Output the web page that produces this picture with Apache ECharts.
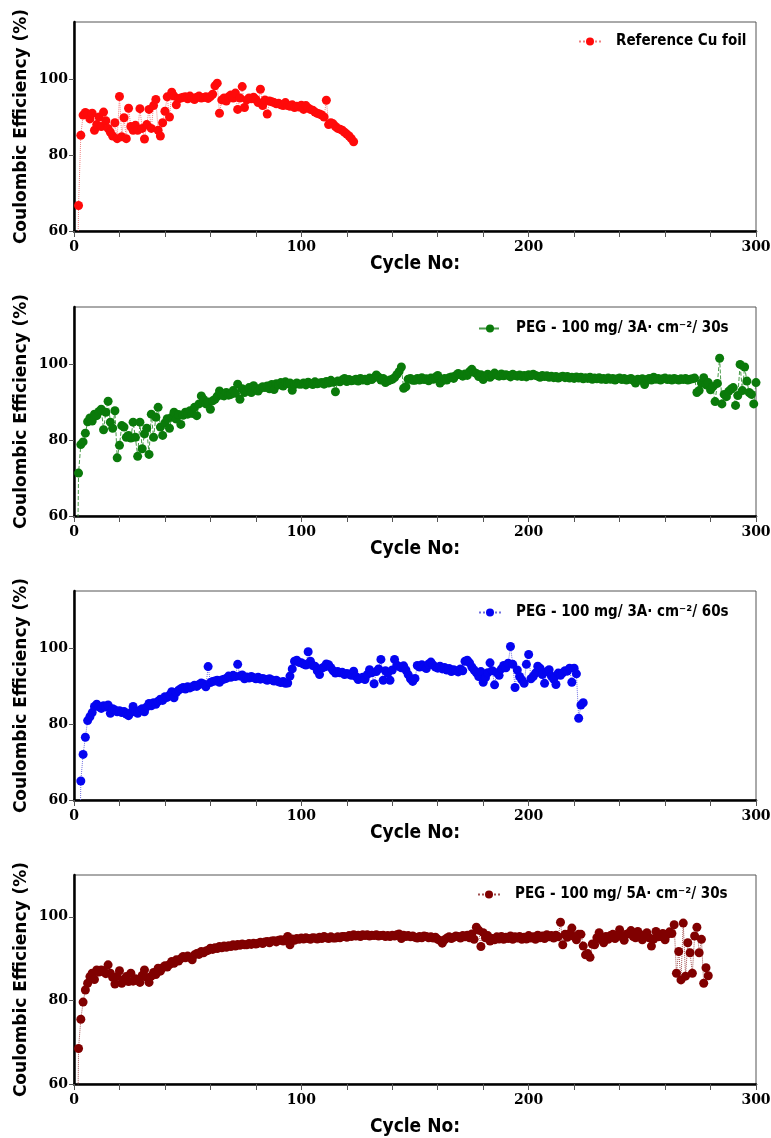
<!DOCTYPE html>
<html>
<head>
<meta charset="utf-8">
<script src="https://cdn.jsdelivr.net/npm/echarts@6/dist/echarts.min.js"></script>
<style>
html,body{margin:0;padding:0;background:#fff;}
#chart{width:771px;height:1138px;}
</style>
</head>
<body>
<div id="chart"></div>
<script>
// ---------- DATA ----------
const seriesNames = [
  'Reference Cu foil',
  'PEG - 100 mg/ 3A\u00b7 cm\u207b\u00b2/ 30s',
  'PEG - 100 mg/ 3A\u00b7 cm\u207b\u00b2/ 60s',
  'PEG - 100 mg/ 5A\u00b7 cm\u207b\u00b2/ 30s'
];
const xTickLabels = [0, 100, 200, 300];
const yTickLabels = [60, 80, 100];

// Reference Cu foil, cycles 1..123 (cycle 1 is off-scale, below 60)
const refStartCycle = 1;
const refValues = [
  20.0, 66.7, 85.2, 90.5, 91.2, 90.8, 89.5, 91.0, 86.5, 88.0,
  90.0, 87.5, 91.3, 89.0, 87.0, 86.0, 85.0, 88.5, 84.3, 95.4,
  84.8, 89.8, 84.3, 92.3, 87.5, 86.5, 87.8, 86.5, 92.2, 87.0,
  84.2, 88.0, 92.0, 87.0, 93.0, 94.6, 86.5, 85.0, 88.5, 91.5,
  95.3, 90.0, 96.5, 95.5, 93.2, 94.8, 95.0, 95.2, 95.3, 94.8,
  95.5, 95.0, 94.6, 95.2, 95.5, 95.0, 95.1, 95.3, 94.9, 95.4,
  96.0, 98.2, 98.9, 91.0, 94.5, 95.0, 94.2, 95.3, 95.8, 95.0,
  96.3, 92.0, 95.0, 98.0, 92.5, 94.5, 95.0, 94.8, 95.2, 94.6,
  93.8, 97.3, 93.0, 94.5, 90.8, 94.2, 94.0, 93.8, 93.5, 93.6,
  93.2, 93.0, 93.8, 93.0, 92.8, 93.2, 92.5, 92.8, 92.6, 93.1,
  92.0, 93.0, 92.4, 92.0, 91.8, 91.3, 91.0, 90.8, 90.5, 90.0,
  94.4, 88.0, 88.5, 88.2, 87.5, 87.0, 86.8, 86.5, 86.0, 85.5,
  85.0, 84.3, 83.5
];

// PEG 3A 30s, cycles 1..300 (cycle 1 off-scale)
const peg30StartCycle = 1;
const peg30Values = [
  20.0, 71.3, 78.8, 79.5, 81.8, 84.8, 85.8, 85.0, 86.8, 86.4,
  87.5, 88.1, 82.7, 87.3, 90.2, 84.7, 83.1, 87.7, 75.3, 78.6,
  83.8, 83.4, 80.7, 81.2, 80.5, 84.7, 80.7, 75.7, 84.7, 77.7,
  81.6, 83.1, 76.2, 86.8, 80.7, 86.0, 88.6, 83.4, 81.2, 84.5,
  85.6, 83.1, 86.0, 87.3, 85.5, 86.7, 84.1, 86.5, 87.3, 86.8,
  87.7, 87.0, 88.6, 86.4, 89.5, 91.6, 90.7, 89.5, 90.0, 88.1,
  90.3, 90.7, 91.5, 92.9, 91.8, 91.6, 92.5, 91.8, 92.0, 93.0,
  92.3, 94.7, 90.7, 93.5, 92.5, 93.0, 93.8, 92.5, 94.3, 93.5,
  92.9, 93.6, 94.0, 93.8, 94.2, 93.5, 94.6, 93.3, 94.8, 94.5,
  95.1, 94.2, 95.3, 94.8, 95.0, 93.1, 94.6, 95.0, 94.7, 94.7,
  95.0, 94.5, 95.2, 94.9, 94.6, 95.3, 94.8, 95.0, 95.1, 94.7,
  95.4, 95.0, 95.7, 95.2, 92.7, 95.5, 95.3, 95.8, 96.2, 95.4,
  95.9, 95.6, 95.7, 96.0, 95.5, 96.2, 95.8, 96.0, 95.6, 96.3,
  95.9, 96.4, 97.1, 96.5, 95.8, 96.2, 95.1, 95.5, 95.8, 96.0,
  96.4, 97.2, 98.0, 99.2, 93.6, 94.0, 96.0, 96.2, 95.7, 95.7,
  96.2, 95.8, 96.4, 95.9, 96.1, 95.6, 96.3, 96.0, 96.5, 97.0,
  95.0, 95.6, 96.2, 95.8, 96.4, 96.6, 96.2, 97.0, 97.5, 97.2,
  96.8, 97.4, 97.0, 98.0, 98.6, 97.8, 97.5, 96.7, 97.2, 95.9,
  96.8, 97.3, 96.5, 97.0, 97.6, 97.1, 96.8, 97.4, 96.9, 97.2,
  97.0, 96.6, 97.3, 97.0, 96.8, 97.1, 96.7, 97.0, 96.6, 97.2,
  96.9, 97.3, 97.0, 96.8, 96.5, 97.0, 96.7, 96.9, 96.5, 96.8,
  96.4, 96.7, 96.3, 96.6, 96.8, 96.4, 96.7, 96.3, 96.5, 96.2,
  96.6, 96.3, 96.5, 96.1, 96.4, 96.2, 96.5, 96.0, 96.3, 96.1,
  96.4, 96.0, 96.2, 95.9, 96.3, 96.0, 96.2, 95.8, 96.1, 96.3,
  95.9, 96.2, 95.8, 96.0, 96.2, 95.7, 95.0, 96.0, 95.8, 96.1,
  94.6, 95.9, 96.2, 95.8, 96.5, 96.0, 96.2, 95.8, 96.1, 96.3,
  95.9, 96.1, 95.8, 96.2, 96.0, 95.8, 96.1, 95.9, 96.2, 95.8,
  96.0, 96.1, 96.3, 92.5, 93.0, 95.0, 96.4, 94.5, 95.1, 93.2,
  94.0, 90.1, 94.9, 101.5, 89.5, 92.0, 91.4, 92.8, 93.4, 93.8,
  89.1, 91.7, 99.9, 93.0, 99.2, 95.5, 92.5, 92.0, 89.5, 95.1
];

// PEG 3A 60s, cycles 2..224 (cycle 2 off-scale)
const peg60StartCycle = 2;
const peg60Values = [
  20.0, 65.0, 72.0, 76.5, 80.9, 81.9, 83.0, 84.6, 85.2,
  84.5, 84.1, 84.8, 84.5, 85.0, 82.8, 84.0, 83.7, 83.2, 83.5,
  83.0, 83.3, 82.6, 82.2, 83.0, 84.6, 83.2, 82.8, 83.6, 84.0,
  83.2, 84.5, 85.4, 84.8, 85.6, 85.2, 86.0, 86.5, 86.2, 87.2,
  87.0, 87.6, 88.5, 86.9, 88.3, 88.9, 89.3, 89.6, 89.2, 89.8,
  89.5, 89.8, 90.2, 89.9, 90.4, 90.8, 90.5, 89.8, 95.1, 90.9,
  91.2, 91.3, 91.5, 91.0, 91.6, 91.8, 92.0, 92.6, 92.3, 92.8,
  92.5, 95.7, 92.6, 92.9, 91.9, 92.4, 92.1, 92.5, 92.2, 91.9,
  92.3, 91.8, 92.0, 91.8, 91.5, 91.9, 91.6, 91.3, 91.5, 91.1,
  90.9, 91.2, 90.7, 90.8, 92.6, 94.5, 96.5, 96.8, 96.2, 96.1,
  95.8, 95.5, 99.0, 96.5, 95.4, 95.2, 94.0, 93.0, 94.7, 95.0,
  95.8, 95.6, 94.8, 94.0, 93.4, 93.8, 93.5, 93.6, 93.0, 93.3,
  93.1, 92.8, 93.9, 92.5, 91.7, 92.0, 92.3, 91.7, 93.0, 94.3,
  93.5, 90.6, 93.8, 94.5, 97.0, 91.5, 94.0, 93.4, 91.5, 94.2,
  97.0, 95.5, 95.1, 94.8, 95.3, 94.2, 93.0, 91.9, 91.2, 92.0,
  95.4, 95.0, 95.6, 95.0, 94.6, 95.8, 96.3, 95.5, 95.0, 94.7,
  95.2, 94.5, 94.9, 94.2, 94.6, 93.8, 94.3, 94.0, 93.7, 94.5,
  94.0, 96.5, 96.8, 96.1, 95.0, 94.2, 93.5, 92.5, 93.8, 91.0,
  92.2, 93.5, 96.1, 94.0, 90.3, 93.5, 92.8, 94.5, 95.4, 94.8,
  96.0, 100.4, 95.7, 89.6, 94.2, 92.5, 91.6, 90.7, 95.7, 98.3,
  91.9, 92.5, 93.4, 95.2, 94.7, 93.0, 90.7, 93.8, 94.3, 92.6,
  91.8, 90.4, 93.4, 92.8, 93.5, 94.0, 93.9, 94.7, 91.0, 94.7,
  93.2, 81.5, 85.0, 85.6
];

// PEG 5A 30s, cycles 1..279 (cycle 1 off-scale)
const peg5aStartCycle = 1;
const peg5aValues = [
  20.0, 68.5, 75.5, 79.6, 82.5, 84.1, 85.7, 86.5, 85.0, 87.3,
  86.8, 87.3, 87.1, 86.4, 88.5, 86.5, 85.5, 83.9, 85.7, 87.1,
  84.1, 85.0, 85.7, 84.5, 86.5, 84.6, 85.2, 84.8, 84.3, 86.0,
  87.3, 85.5, 84.3, 85.8, 86.7, 86.2, 87.7, 87.0, 87.8, 88.3,
  88.0, 88.6, 89.3, 88.9, 89.7, 89.4, 90.0, 90.5, 90.2, 90.6,
  90.3, 89.7, 90.9, 91.2, 91.0, 91.7, 91.4, 91.8, 92.0, 92.5,
  92.2, 92.6, 92.4, 92.9, 92.6, 93.0, 92.7, 93.1, 92.9, 93.3,
  93.0, 93.4, 93.2, 93.5, 93.3, 93.3, 93.6, 93.4, 93.7, 93.5,
  93.7, 93.9, 93.6, 94.0, 94.1, 93.8, 94.2, 94.3, 94.0, 94.4,
  94.5, 94.2, 94.6, 95.3, 93.3, 94.7, 94.4, 94.8, 94.6, 94.9,
  94.7, 95.0, 94.8, 94.6, 95.0, 94.9, 94.7, 95.1, 94.8, 95.3,
  95.0, 94.8, 95.2, 94.9, 94.9, 95.2, 95.0, 95.3, 95.3, 95.1,
  95.5, 95.3, 95.7, 95.4, 95.6, 95.3, 95.7, 95.5, 95.7, 95.4,
  95.6, 95.5, 95.7, 95.4, 95.5, 95.6, 95.3, 95.5, 95.3, 95.6,
  95.4, 95.7, 95.9, 94.8, 95.6, 95.3, 95.5, 95.2, 95.4, 95.1,
  94.9, 95.3, 95.0, 95.4, 95.3, 95.0, 95.2, 94.9, 95.1, 94.6,
  94.3, 93.7, 94.5, 94.9, 95.2, 94.8, 95.1, 95.4, 95.3, 94.9,
  95.5, 95.2, 95.6, 95.0, 95.9, 94.6, 97.5, 96.8, 92.9, 96.2,
  95.0, 95.5, 94.2, 94.8, 94.5, 95.2, 94.7, 95.3, 94.6, 95.1,
  94.8, 95.4, 94.6, 95.2, 94.9, 95.3, 94.6, 95.1, 94.7, 95.5,
  94.9, 95.2, 94.6, 95.6, 95.0, 95.4, 94.8, 95.7, 95.2, 95.5,
  94.9, 95.6, 95.2, 98.7, 93.3, 95.8, 95.1, 96.0, 97.3, 95.3,
  94.5, 95.8, 95.8, 93.0, 90.9, 91.2, 90.3, 93.5, 93.3, 95.0,
  96.2, 94.5, 93.8, 95.3, 94.6, 95.5, 95.8, 94.8, 95.6, 96.9,
  95.2, 94.4, 95.8, 96.0, 96.7, 95.3, 95.0, 96.5, 95.8, 94.5,
  95.5, 96.2, 95.0, 93.0, 94.7, 96.5, 95.2, 95.3, 96.0, 94.5,
  95.8, 96.4, 96.0, 98.1, 86.5, 91.7, 84.9, 98.5, 85.8, 93.8,
  91.4, 86.5, 95.4, 97.5, 91.4, 94.6, 84.1, 87.8, 85.9
];

const seriesStarts = [refStartCycle, peg30StartCycle, peg60StartCycle, peg5aStartCycle];
const seriesValues = [refValues, peg30Values, peg60Values, peg5aValues];
const yMaxes = [115, 115, 115, 110];

// ---------- STYLE ----------
const markerColors = ['#ff0a0a', '#0a7a0a', '#0505f0', '#800000'];
const lineColors = ['#f08080', '#4a9a4a', '#7070e0', '#a05050'];
const lineTypes = ['dotted', 'dashed', 'dotted', 'dotted'];
const gridTops = [22, 307, 591, 875];
const gridH = 209;
const xNameGaps = [19, 19, 19, 34];
const legendPos = [[578, 34], [478, 321], [478, 605], [477, 887]];

const tickFont = "'DejaVu Serif', 'Liberation Serif', serif";
const narrowFont = "'Liberation Sans Narrow', 'DejaVu Sans Condensed', 'Arial Narrow', sans-serif";

function pairs(start, vals) {
  return vals.map((v, i) => [start + i, v]);
}

const grids = [], xAxes = [], yAxes = [], series = [], legends = [];
for (let k = 0; k < 4; k++) {
  grids.push({
    left: 74, right: 15, top: gridTops[k], height: gridH,
    show: true, borderColor: '#555', borderWidth: 1, backgroundColor: 'transparent',
    containLabel: false, outerBoundsMode: 'none'
  });
  xAxes.push({
    type: 'value', gridIndex: k, min: 0, max: 300, interval: 20,
    name: 'Cycle No:', nameLocation: 'middle', nameGap: xNameGaps[k],
    nameTextStyle: { fontFamily: narrowFont, fontWeight: 'bold', fontSize: 19, color: '#000' },
    axisLine: { show: true, onZero: false, lineStyle: { color: '#000', width: 2.5 } },
    axisTick: { show: true, inside: false, length: 6, lineStyle: { color: '#555', width: 1 } },
    axisLabel: {
      margin: 9, color: '#000', fontFamily: tickFont, fontWeight: 'bold', fontSize: 14,
      formatter: v => (xTickLabels.indexOf(v) >= 0 ? String(v) : '')
    },
    splitLine: { show: false }
  });
  yAxes.push({
    type: 'value', gridIndex: k, min: 60, max: yMaxes[k], interval: 20,
    name: 'Coulombic Efficiency (%)', nameLocation: 'middle', nameGap: 44, nameRotate: 90,
    nameMoveOverlap: false,
    nameTextStyle: { fontFamily: "'DejaVu Sans', sans-serif", fontWeight: 'bold', fontSize: 17, color: '#000' },
    axisLine: { show: true, onZero: false, lineStyle: { color: '#000', width: 2.5 } },
    axisTick: { show: true, inside: false, length: 5, lineStyle: { color: '#555', width: 1 } },
    axisLabel: {
      margin: 6, color: '#000', fontFamily: tickFont, fontWeight: 'bold', fontSize: 14,
      showMaxLabel: false,
      formatter: v => (yTickLabels.indexOf(v) >= 0 ? String(v) : '')
    },
    splitLine: { show: false }
  });
  series.push({
    name: seriesNames[k], type: 'line', xAxisIndex: k, yAxisIndex: k,
    data: pairs(seriesStarts[k], seriesValues[k]),
    symbol: 'circle', symbolSize: 9, showSymbol: true, showAllSymbol: true,
    itemStyle: { color: markerColors[k] },
    lineStyle: { color: lineColors[k], width: 1, type: lineTypes[k] },
    emphasis: { disabled: true },
    animation: false, clip: true, z: 3
  });
  legends.push({
    data: [seriesNames[k]], left: legendPos[k][0], top: legendPos[k][1],
    padding: 0, itemWidth: 22, itemHeight: 10, selectedMode: false,
    textStyle: { fontFamily: narrowFont, fontWeight: 'bold', fontSize: 15, color: '#000',
      padding: [0, 0, 0, 10] }
  });
}

const chart = echarts.init(document.getElementById('chart'), null, { renderer: 'canvas' });
chart.setOption({
  backgroundColor: '#fff',
  animation: false,
  grid: grids, xAxis: xAxes, yAxis: yAxes, series: series, legend: legends
});
</script>
</body>
</html>
